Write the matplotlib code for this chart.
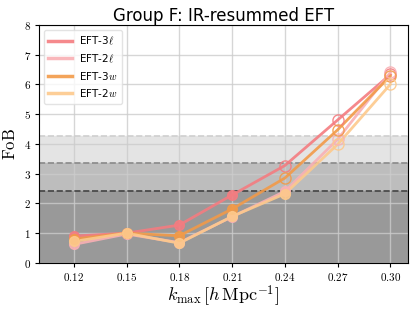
import numpy as np
import matplotlib
matplotlib.use("Agg")
import matplotlib.pyplot as plt

# -----------------------------
# Data
# -----------------------------
k_max = [0.12, 0.15, 0.18, 0.21, 0.24, 0.27, 0.30]
xtick_labels = ["0.12", "0.15", "0.18", "0.21", "0.24", "0.27", "0.30"]

fob_eft3_l = [0.90, 1.00, 1.27, 2.28, 3.27, 4.80, 6.33]
fob_eft2_l = [0.62, 0.97, 0.68, 1.55, 2.40, 4.15, 6.40]
fob_eft3_w = [0.80, 1.00, 0.91, 1.81, 2.85, 4.47, 6.28]
fob_eft2_w = [0.72, 1.00, 0.66, 1.56, 2.32, 3.98, 6.00]

labels = [r"EFT-3$\ell$", r"EFT-2$\ell$", r"EFT-3$w$", r"EFT-2$w$"]
colors = ["#f47c80", "#f9b0b4", "#f29a48", "#fdc98c"]

# threshold bands (FoB levels)
thresholds = [4.28, 3.36, 2.42]
band_colors = ["#e4e4e4", "#bdbdbd", "#999999"]
line_colors = ["#cfcfcf", "#8a8a8a", "#444444"]
filled_below = 2.42

plt.rcParams["mathtext.fontset"] = "cm"

fig = plt.figure(figsize=(4.15, 3.10), dpi=100)
ax = fig.add_axes([0.093, 0.152, 0.89, 0.768])

for lvl, bc, lc in zip(thresholds, band_colors, line_colors):
    ax.axhspan(0, lvl, color=bc, zorder=0)
    ax.axhline(lvl, color=lc, linestyle="--", linewidth=1.2, zorder=1)

ax.grid(True, color="#cccccc", linewidth=1.0, alpha=0.8, zorder=0.5)
ax.set_axisbelow(True)

series = [fob_eft3_l, fob_eft2_l, fob_eft3_w, fob_eft2_w]
for vals, lab, col in zip(series, labels, colors):
    ax.plot(k_max, vals, color=col, linewidth=2.0, alpha=0.9, label=lab, zorder=3)
    for x, y in zip(k_max, vals):
        if y < filled_below:
            ax.plot(x, y, "o", color=col, markersize=7, alpha=0.9, zorder=4)
        else:
            ax.plot(x, y, "o", markerfacecolor="none", markeredgecolor=col,
                    markeredgewidth=1.0, markersize=8, alpha=0.9, zorder=4)

ax.set_xlim(0.10, 0.31)
ax.set_ylim(0, 8)
ax.set_xticks(k_max)
ax.set_xticklabels(["$" + t + "$" for t in xtick_labels], fontsize=8)
ax.set_yticks(range(0, 9))
ax.set_yticklabels(["$%d$" % v for v in range(0, 9)], fontsize=8)
ax.tick_params(direction="out", length=3, width=0.8, pad=2.5)

ax.set_xlabel(r"$k_{\rm max}\,[h\,{\rm Mpc}^{-1}]$", fontsize=13, labelpad=1)
ax.set_ylabel(r"${\rm FoB}$", fontsize=12, labelpad=3)
ax.set_title("Group F: IR-resummed EFT", fontsize=12, pad=3)

leg = ax.legend(loc="upper left", fontsize=7.5, handlelength=2.3, handletextpad=0.6,
                frameon=True, framealpha=0.8, edgecolor="#dddddd",
                borderpad=0.45, labelspacing=0.5)
for line in leg.get_lines():
    line.set_linewidth(2.5)

plt.savefig("out.png", dpi=100)
